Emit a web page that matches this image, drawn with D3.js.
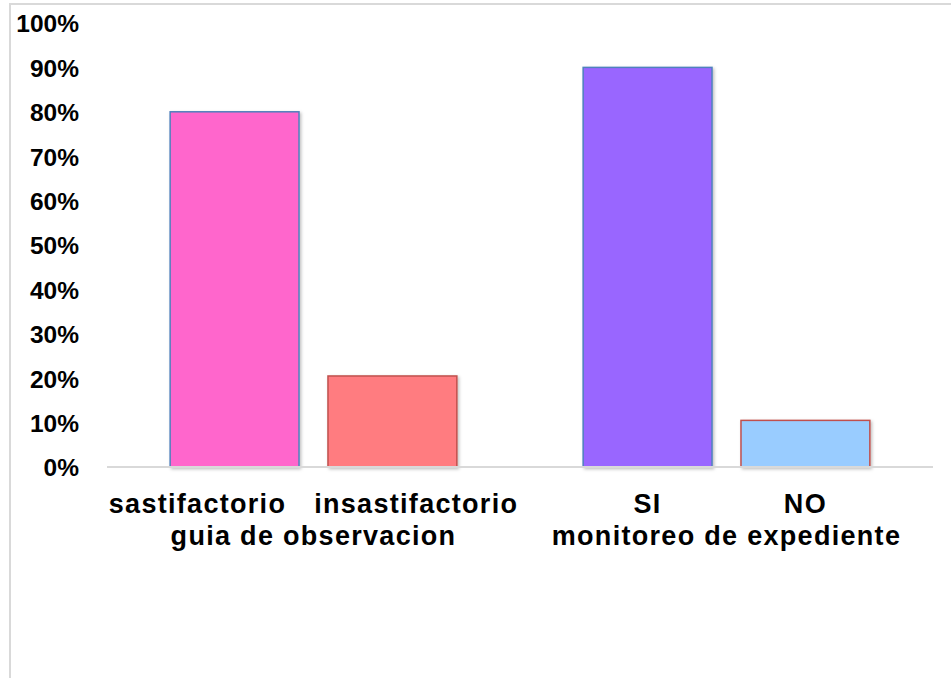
<!DOCTYPE html>
<html>
<head>
<meta charset="utf-8">
<script src="https://cdn.jsdelivr.net/npm/d3@7"></script>
<style>
  html, body { margin: 0; padding: 0; background: #ffffff; }
  svg { display: block; }
</style>
</head>
<body>
<svg id="chart" width="951" height="678"></svg>
<script>
// Groups, their sub-categories and percentage values
const groups = ["guia de observacion", "monitoreo de expediente"];
const subLabels = [["sastifactorio", "insastifactorio"], ["SI", "NO"]];
const values = [[80, 20.5], [90, 10.5]];
const barColors = [["#ff66cc", "#ff7c80"], ["#9966ff", "#99ccff"]];
const barStrokes = [["#4f81bd", "#c0504d"], ["#4f81bd", "#c0504d"]];
const yTicks = [0, 10, 20, 30, 40, 50, 60, 70, 80, 90, 100];

const svg = d3.select("#chart");
const W = 951, H = 678;
const plot = { left: 107, right: 933, top: 23, bottom: 467 };

// Outer frame (only top and left edges fall inside the view)
svg.append("rect")
  .attr("x", 10).attr("y", 4)
  .attr("width", W + 20).attr("height", H + 20)
  .attr("fill", "none")
  .attr("stroke", "#d9d9d9")
  .attr("stroke-width", 2);

const defs = svg.append("defs");
const shadow = defs.append("filter").attr("id", "barShadow")
  .attr("x", "-10%").attr("y", "-10%").attr("width", "130%").attr("height", "130%");
shadow.append("feDropShadow")
  .attr("dx", 1.5).attr("dy", 1.5).attr("stdDeviation", 1.5)
  .attr("flood-color", "#000").attr("flood-opacity", 0.25);

const y = d3.scaleLinear().domain([0, 100]).range([plot.bottom, plot.top]);

const x0 = d3.scaleBand().domain(groups).range([plot.left, plot.right]).padding(0);
const x1 = d3.scaleBand().domain([0, 1]).range([0, x0.bandwidth()])
  .paddingInner(0.1835).paddingOuter(0.4);

// Y axis labels (no axis line, no tick marks)
const yAxis = d3.axisLeft(y).tickValues(yTicks).tickFormat(d => d + "%").tickSize(0).tickPadding(0);
const yg = svg.append("g").attr("transform", "translate(79,0)").call(yAxis);
yg.select(".domain").remove();
yg.selectAll("text")
  .attr("font-family", "'Liberation Sans', Arial, sans-serif")
  .attr("font-weight", "bold")
  .attr("font-size", 24.5)
  .attr("fill", "#000")
  .attr("dy", "0.36em");

// Bars
groups.forEach((g, gi) => {
  const gx = x0(g);
  values[gi].forEach((v, i) => {
    svg.append("rect")
      .attr("x", gx + x1(i))
      .attr("y", y(v))
      .attr("width", x1.bandwidth())
      .attr("height", y(0) - y(v))
      .attr("fill", barColors[gi][i])
      .attr("stroke", barStrokes[gi][i])
      .attr("stroke-width", 1.5)
      .attr("filter", "url(#barShadow)");
  });
});

// Category baseline
svg.append("line")
  .attr("x1", plot.left).attr("x2", plot.right)
  .attr("y1", y(0)).attr("y2", y(0))
  .attr("stroke", "#d9d9d9").attr("stroke-width", 2);

// Category labels: sub-category line and group line
const labelFont = "'Liberation Sans', Arial, sans-serif";
const labelSize = 27;
const labelSpacing = 1.3;
const subY = 513, groupY = 545;
const minGap = 28;

groups.forEach((g, gi) => {
  const gx = x0(g);
  const center = gx + x0.bandwidth() / 2;
  const texts = subLabels[gi].map((s, i) => svg.append("text")
    .attr("font-family", labelFont)
    .attr("font-weight", "bold")
    .attr("font-size", labelSize)
    .attr("letter-spacing", labelSpacing)
    .attr("fill", "#000")
    .attr("y", subY)
    .text(s));
  const widths = texts.map(t => t.node().getComputedTextLength());
  let lefts = subLabels[gi].map((s, i) => gx + x1(i) + x1.bandwidth() / 2 - widths[i] / 2);
  // When labels centered on their bars collide, set them side by side around the group center
  if (lefts[0] + widths[0] + minGap > lefts[1]) {
    const total = widths[0] + minGap + widths[1];
    lefts = [center - total / 2, center - total / 2 + widths[0] + minGap];
  }
  texts.forEach((t, i) => t.attr("x", lefts[i]));

  svg.append("text")
    .attr("font-family", labelFont)
    .attr("font-weight", "bold")
    .attr("font-size", labelSize)
    .attr("letter-spacing", labelSpacing)
    .attr("fill", "#000")
    .attr("x", center)
    .attr("y", groupY)
    .attr("text-anchor", "middle")
    .text(g);
});
</script>
</body>
</html>
